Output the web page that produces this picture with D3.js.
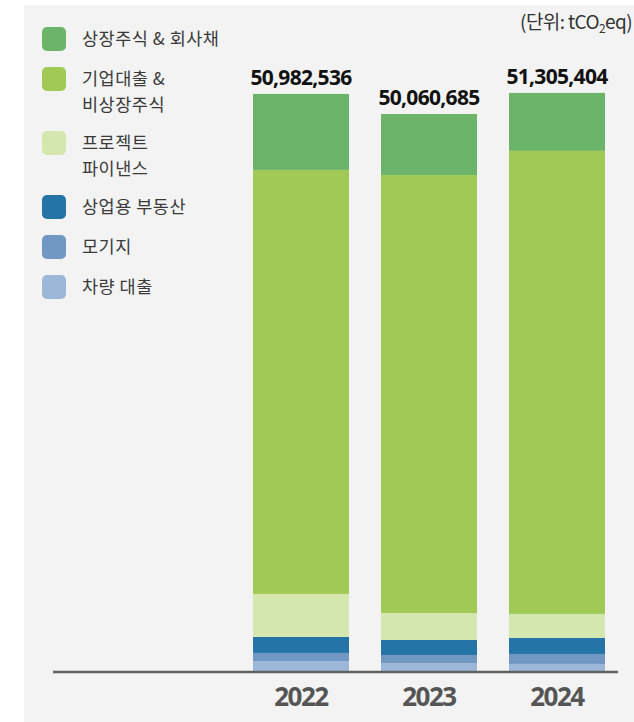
<!DOCTYPE html>
<html>
<head>
    <meta charset="UTF-8">
    <title>금융배출량</title>
    <style>
        body { margin: 0; background: #fff; }
    </style>
</head>
<body>
    <script src="https://d3js.org/d3.v7.min.js"></script>
    <script>
        // 데이터
        var years = ["2022", "2023", "2024"]
        var totals = [50982536, 50060685, 51305404] // 막대 위 합계 라벨
        // 아래에서 위로 쌓는 순서
        var seriesNames = ["차량 대출", "모기지", "상업용 부동산", "프로젝트 파이낸스", "기업대출 & 비상장주식", "상장주식 & 회사채"]
        var carLoans = [970000, 790000, 710000]
        var mortgages = [710000, 710000, 880000]
        var commercialRE = [1410000, 1320000, 1410000]
        var projectFinance = [3790000, 2380000, 2120000]
        var businessLoans = [37370000, 38600000, 40810000]
        var listedEquity = [6700000, 5380000, 5110000]
        var seriesValues = [carLoans, mortgages, commercialRE, projectFinance, businessLoans, listedEquity]
        var colors = ["#9db7d8", "#7098c3", "#2474a8", "#d4e7af", "#a0ca55", "#6db46b"]

        // 범례 (위에서 아래 순서)
        var legendItems = [
            { lines: ["상장주식 & 회사채"], color: "#6db46b" },
            { lines: ["기업대출 &", "비상장주식"], color: "#a0ca55" },
            { lines: ["프로젝트", "파이낸스"], color: "#d4e7af" },
            { lines: ["상업용 부동산"], color: "#2474a8" },
            { lines: ["모기지"], color: "#7098c3" },
            { lines: ["차량 대출"], color: "#9db7d8" }
        ]

        var width = 634
        var height = 722
        var baseY = 672

        var svg = d3.select("body").append("svg")
            .attr("width", width)
            .attr("height", height)

        // 배경 패널
        svg.append("rect")
            .attr("x", 24).attr("y", 5)
            .attr("width", width - 24).attr("height", height - 5)
            .attr("fill", "#f2f3f2")

        // 테이블 구성
        var table = years.map(function(y, i) {
            var row = { year: y }
            seriesNames.forEach(function(s, j) { row[s] = seriesValues[j][i] })
            return row
        })
        var stacked = d3.stack().keys(seriesNames)(table)

        var x = d3.scaleBand()
            .domain(years)
            .range([253, 605])
            .paddingInner(0.25)
            .paddingOuter(0)

        var y = d3.scaleLinear()
            .domain([0, 52000000])
            .range([baseY, 82])

        // 막대
        svg.append("g").selectAll("g")
            .data(stacked)
            .enter()
            .append("g")
            .attr("fill", function(d, i) { return colors[i] })
            .selectAll("rect")
            .data(function(d) { return d })
            .enter()
            .append("rect")
            .attr("x", function(d) { return x(d.data.year) })
            .attr("y", function(d) { return y(d[1]) })
            .attr("width", x.bandwidth())
            .attr("height", function(d) { return y(d[0]) - y(d[1]) })

        // 합계 라벨
        var topLayer = stacked[stacked.length - 1]
        svg.append("g").selectAll("text")
            .data(years)
            .enter()
            .append("text")
            .attr("x", function(d) { return x(d) + x.bandwidth() / 2 })
            .attr("y", function(d, i) { return y(topLayer[i][1]) - 9 })
            .attr("text-anchor", "middle")
            .attr("font-family", "'Noto Sans', sans-serif")
            .attr("font-weight", "bold")
            .attr("font-size", "21px")
            .attr("letter-spacing", "-0.7px")
            .attr("fill", "#111")
            .text(function(d, i) { return d3.format(",")(totals[i]) })

        // x축
        var xAxis = svg.append("g")
            .attr("transform", "translate(0," + baseY + ")")
            .call(d3.axisBottom(x).tickSize(0).tickPadding(16))
        xAxis.select(".domain").remove()
        xAxis.append("line")
            .attr("x1", 53).attr("x2", 618)
            .attr("stroke", "#616161")
            .attr("stroke-width", 2.5)
        xAxis.selectAll(".tick text")
            .attr("font-family", "'Noto Sans', sans-serif")
            .attr("font-weight", "bold")
            .attr("font-size", "26px")
            .attr("letter-spacing", "-1.5px")
            .attr("fill", "#555")

        // 범례
        var legend = svg.append("g")
        var ly = 27
        legendItems.forEach(function(item) {
            legend.append("rect")
                .attr("x", 42).attr("y", ly)
                .attr("width", 24).attr("height", 24)
                .attr("rx", 5)
                .attr("fill", item.color)
            item.lines.forEach(function(line, k) {
                legend.append("text")
                    .attr("x", 82)
                    .attr("y", ly + 18 + k * 26)
                    .attr("font-family", "'Noto Sans CJK KR', sans-serif")
                    .attr("font-size", "17.5px")
                    .attr("letter-spacing", "0.5px")
                    .attr("fill", "#3a3a3a")
                    .text(line)
            })
            ly += 16 + 24 * item.lines.length
        })

        // 단위
        var unit = svg.append("text")
            .attr("x", 632).attr("y", 29)
            .attr("text-anchor", "end")
            .attr("font-family", "'Noto Sans CJK KR', sans-serif")
            .attr("font-size", "19px")
            .attr("letter-spacing", "-0.6px")
            .attr("fill", "#333")
        unit.append("tspan").text("(단위: tCO")
        unit.append("tspan").attr("font-size", "12px").attr("dy", 4).text("2")
        unit.append("tspan").attr("dy", -4).text("eq)")
    </script>
</body>
</html>
